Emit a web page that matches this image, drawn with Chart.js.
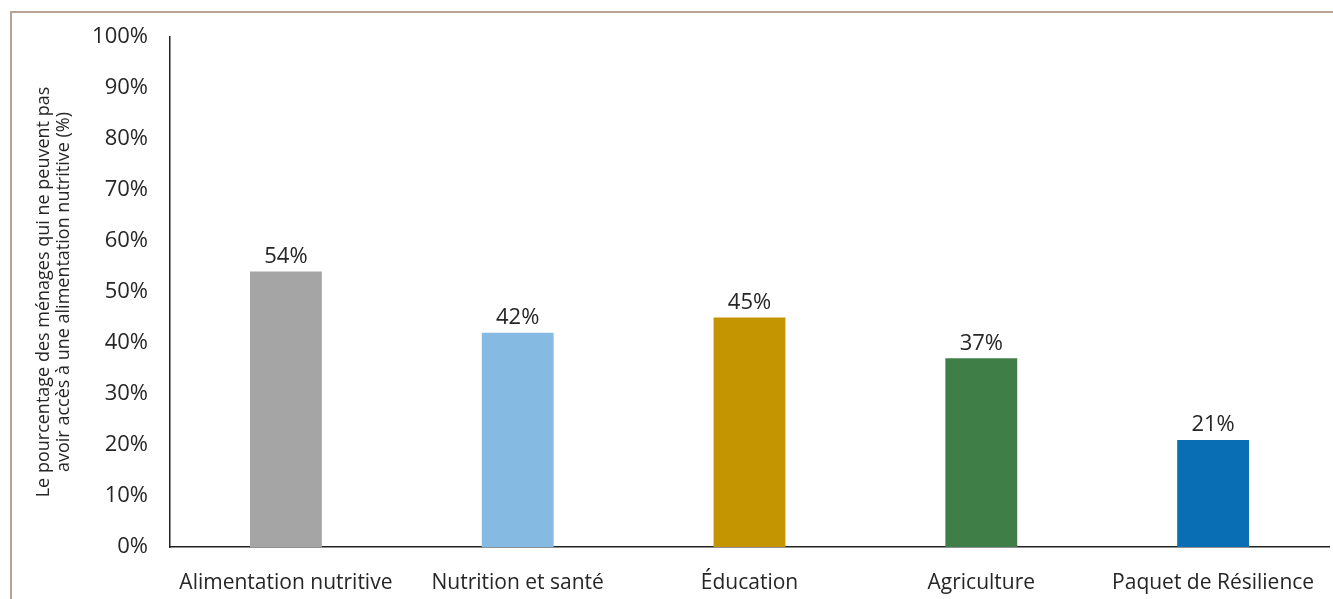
<!DOCTYPE html>
<html>
<head>
<meta charset="utf-8">
<script src="https://cdn.jsdelivr.net/npm/chart.js@4/dist/chart.umd.min.js"></script>
<style>
  html, body { margin: 0; padding: 0; background: #fff; }
  .wrap { position: relative; width: 1333px; height: 599px; }
  .frame {
    position: absolute; left: 10px; top: 11px; right: 0; bottom: 0;
    border-top: 2px solid #b9a293; border-left: 2px solid #b9a293;
  }
  canvas { position: absolute; left: 0; top: 0; }
</style>
</head>
<body>
<div class="wrap">
  <div class="frame"></div>
  <canvas id="chart" width="1333" height="599"></canvas>
</div>
<script>
const categories = ['Alimentation nutritive', 'Nutrition et santé', 'Éducation', 'Agriculture', 'Paquet de Résilience'];
const values = [54, 42, 45, 37, 21];
const barColors = ['#a5a5a5', '#85bae3', '#c49500', '#3f7f47', '#0a6eb4'];
const yTicks = [0, 10, 20, 30, 40, 50, 60, 70, 80, 90, 100];
const yTitle = ['Le pourcentage des ménages qui ne peuvent pas', 'avoir accès à une alimentation nutritive (%)'];

const FONT = "'Open Sans', 'Noto Sans', sans-serif";
const TEXT = '#262626';

// value labels above each bar
const barLabels = {
  id: 'barLabels',
  afterDatasetsDraw(chart) {
    const ctx = chart.ctx;
    const meta = chart.getDatasetMeta(0);
    ctx.save();
    ctx.font = '22px ' + FONT;
    ctx.fillStyle = TEXT;
    ctx.textAlign = 'center';
    ctx.textBaseline = 'bottom';
    meta.data.forEach((bar, i) => {
      ctx.fillText(values[i] + '%', bar.x, bar.y - 4);
    });
    ctx.restore();
  }
};

new Chart(document.getElementById('chart'), {
  type: 'bar',
  data: {
    labels: categories,
    datasets: [{
      data: values,
      backgroundColor: barColors,
      borderWidth: 0,
      categoryPercentage: 1,
      barPercentage: 0.31
    }]
  },
  options: {
    responsive: false,
    animation: false,
    layout: { padding: { left: 34, right: 4, top: 37, bottom: 0 } },
    plugins: {
      legend: { display: false },
      tooltip: { enabled: false }
    },
    scales: {
      x: {
        grid: { display: false, drawTicks: false },
        border: { color: '#222', width: 1.5 },
        ticks: { color: TEXT, font: { family: FONT, size: 21 }, padding: 23, maxRotation: 0, autoSkip: false },
        afterFit(scale) { scale.height = 52; scale.paddingRight = 0; scale.paddingLeft = 0; }
      },
      y: {
        min: 0,
        max: 100,
        afterBuildTicks(scale) { scale.ticks = yTicks.map(v => ({ value: v })); },
        grid: { display: false, drawTicks: false },
        border: { color: '#222', width: 1.5 },
        ticks: {
          color: TEXT,
          font: { family: FONT, size: 22 },
          padding: 22,
          callback: v => v + '%'
        },
        title: {
          display: true,
          text: yTitle,
          color: TEXT,
          font: { family: FONT, size: 18, lineHeight: 1.1 },
          padding: 0
        },
        afterFit(scale) { scale.width = 136; }
      }
    }
  },
  plugins: [barLabels]
});
</script>
</body>
</html>
